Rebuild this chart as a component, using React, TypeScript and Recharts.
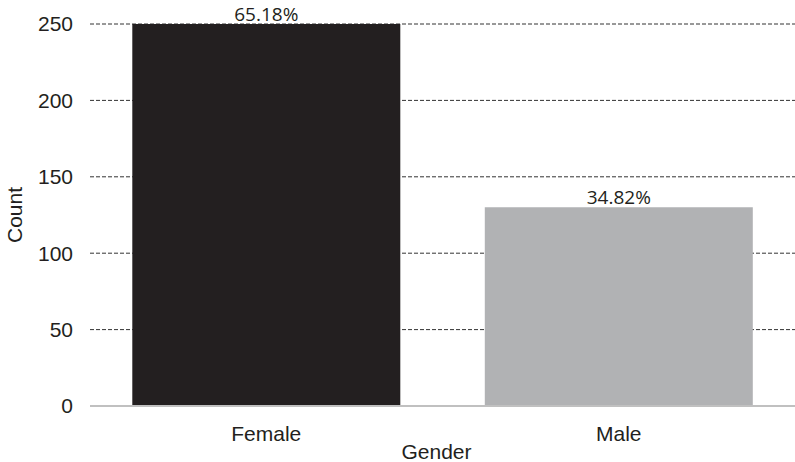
import React from 'react';
import { BarChart, Bar, XAxis, YAxis, CartesianGrid, LabelList, Cell } from 'recharts';

// Respondent counts by gender, with each group's share of the total
const genders = ['Female', 'Male'];
const counts = [250, 130];
const shares = ['65.18%', '34.82%'];
const barColors = ['#231f20', '#b1b2b4'];
const yTicks = [0, 50, 100, 150, 200, 250];

const data = genders.map((g, i) => ({ gender: g, count: counts[i], share: shares[i] }));

const AXIS_FONT = '"Liberation Sans", Arial, sans-serif';
const LABEL_FONT = '"Open Sans", "Noto Sans", sans-serif';

const XTitle = (props: any) => {
  const { viewBox } = props;
  const cx = viewBox.x + viewBox.width / 2 - 6;
  return (
    <text x={cx} y={viewBox.y + viewBox.height - 3} textAnchor="middle" fill="#231f20" fontSize={21} fontFamily={AXIS_FONT}>
      Gender
    </text>
  );
};

const YTitle = (props: any) => {
  const { viewBox } = props;
  const cx = 22;
  const cy = viewBox.y + viewBox.height / 2;
  return (
    <text x={cx} y={cy} transform={`rotate(-90 ${cx} ${cy})`} textAnchor="middle" fill="#231f20" fontSize={21} fontFamily={AXIS_FONT}>
      Count
    </text>
  );
};

export default function App() {
  return (
    <div style={{ position: 'absolute', left: 0, top: 0, width: 795, height: 462, background: '#fff' }}>
      <BarChart
        width={795}
        height={462}
        data={data}
        margin={{ top: 24, right: 0, left: 0, bottom: 0 }}
        barCategoryGap="12%"
      >
        <CartesianGrid vertical={false} stroke="#333" strokeDasharray="4 2" />
        <XAxis
          dataKey="gender"
          height={56}
          tickLine={false}
          tickSize={0}
          tickMargin={20}
          axisLine={{ stroke: '#c0c0c0', strokeWidth: 2 }}
          tick={{ fill: '#231f20', fontSize: 21, fontFamily: AXIS_FONT }}
          label={<XTitle />}
        />
        <YAxis
          width={90}
          domain={[0, 250]}
          ticks={yTicks}
          axisLine={false}
          tickLine={false}
          tickSize={0}
          tickMargin={17}
          tick={{ fill: '#231f20', fontSize: 21, fontFamily: AXIS_FONT }}
          label={<YTitle />}
        />
        <Bar dataKey="count" isAnimationActive={false}>
          {data.map((d, i) => (
            <Cell key={d.gender} fill={barColors[i]} />
          ))}
          <LabelList
            dataKey="share"
            position="top"
            offset={3}
            fill="#231f20"
            fontSize={19}
            fontFamily={LABEL_FONT}
          />
        </Bar>
      </BarChart>
    </div>
  );
}
